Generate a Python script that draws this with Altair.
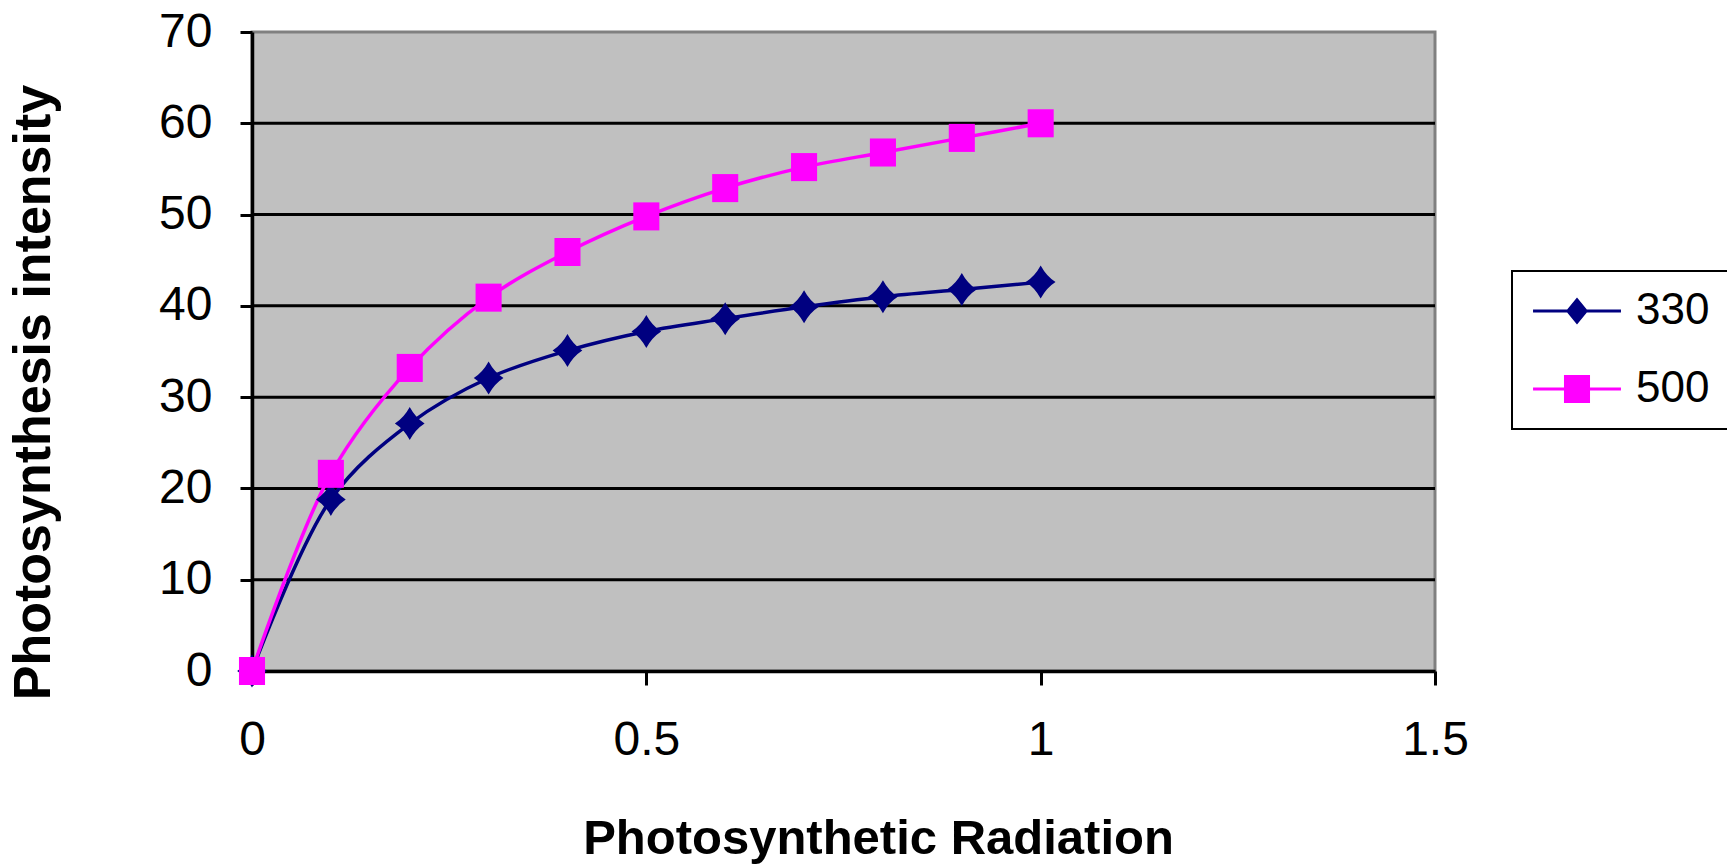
import altair as alt
import pandas as pd

# ---- data ----
x_vals = [0.0, 0.1, 0.2, 0.3, 0.4, 0.5, 0.6, 0.7, 0.8, 0.9, 1.0]
series_330 = [0.0, 18.8, 27.1, 32.1, 35.1, 37.2, 38.6, 39.9, 41.0, 41.8, 42.6]
series_500 = [0.0, 21.6, 33.2, 40.9, 45.9, 49.8, 52.9, 55.2, 56.8, 58.4, 60.0]
series_names = ["330", "500"]
series_colors = ["#000080", "#FF00FF"]
grid_values = [10, 20, 30, 40, 50, 60]
x_ticks = [0, 0.5, 1, 1.5]
y_ticks = [0, 10, 20, 30, 40, 50, 60, 70]

rows = []
for name, vals in zip(series_names, [series_330, series_500]):
    for xv, yv in zip(x_vals, vals):
        rows.append({"radiation": xv, "intensity": yv, "series": name})
df = pd.DataFrame(rows)

W, H = 1183, 639
FONT = "Liberation Sans"

color_scale = alt.Scale(domain=series_names, range=series_colors)
x_scale = alt.Scale(domain=[0, 1.5], nice=False, zero=False)
y_scale = alt.Scale(domain=[0, 70], nice=False)

diamond = "M0,-1Q0.35,-0.35,0.9,0Q0.35,0.35,0,1Q-0.35,0.35,-0.9,0Q-0.35,-0.35,0,-1Z"
square = "M-0.79,-0.85L0.79,-0.85L0.79,0.85L-0.79,0.85Z"

leg_diamond = "M-3.14,-0.1L3.14,-0.1L3.14,0.1L-3.14,0.1Z M0,-0.96L0.79,0L0,0.96L-0.79,0Z"
leg_square = "M-3.14,-0.1L3.14,-0.1L3.14,0.1L-3.14,0.1Z M-0.93,-1L0.93,-1L0.93,1L-0.93,1Z"

x_axis = alt.Axis(
    values=x_ticks, format="~g", title="Photosynthetic Radiation",
    tickSize=14, labelPadding=31, labelFlush=False,
    titleX=626, titleY=182, titleBaseline="alphabetic", titleAlign="center",
    titleFontSize=49,
)
y_axis = alt.Axis(
    values=y_ticks, format="d", title="Photosynthesis intensity",
    tickSize=12, labelPadding=28, labelFlush=False,
    titleX=-203, titleY=360, titleAngle=270, titleBaseline="alphabetic", titleAlign="center",
    titleFontSize=52,
)

legend = alt.Legend(
    title=None, orient="none", legendX=1260, legendY=239, direction="vertical",
    fillColor="white", strokeColor="black", padding=18, rowPadding=34,
    symbolSize=784, symbolOffset=25, labelOffset=37,
    labelFont=FONT, labelFontSize=44, labelColor="black",
    symbolStrokeWidth=0, symbolOpacity=1,
)

base = alt.Chart(df)
X = alt.X("radiation:Q", scale=x_scale, axis=x_axis)
Y = alt.Y("intensity:Q", scale=y_scale, axis=y_axis)

grid = alt.Chart(pd.DataFrame({"g": grid_values})).mark_rule(
    color="black", strokeWidth=3
).encode(y=alt.Y("g:Q", scale=y_scale, axis=y_axis))

layers = [grid]
for name, col in zip(series_names, series_colors):
    layers.append(
        base.transform_filter(alt.datum.series == name)
        .mark_line(strokeWidth=3.5, interpolate="catmull-rom", color=col)
        .encode(x=X, y=Y)
    )
for name, col, path in zip(series_names, series_colors, [diamond, square]):
    layers.append(
        base.transform_filter(alt.datum.series == name)
        .mark_point(filled=True, opacity=1, size=1089, strokeWidth=0, shape=path, color=col)
        .encode(x=X, y=Y)
    )

legend_layer = base.mark_point(filled=True, opacity=0, size=784).encode(
    x=X, y=Y,
    color=alt.Color("series:N", scale=color_scale, legend=legend),
    shape=alt.Shape("series:N", scale=alt.Scale(domain=series_names, range=[leg_diamond, leg_square]), legend=legend),
)
layers.append(legend_layer)

chart = alt.layer(*layers).properties(
    width=W, height=H,
    autosize=alt.AutoSizeParams(type="none"),
    padding={"left": 252, "top": 32, "right": 292, "bottom": 194},
    background="white",
).configure_view(
    fill="#C0C0C0", stroke="#808080", strokeWidth=3
).configure_axis(
    domainColor="black", domainWidth=3.5, tickColor="black", tickWidth=3,
    labelFont=FONT, labelFontSize=48, labelColor="black",
    titleFont=FONT, titleFontWeight="bold", titleColor="black",
    grid=False,
).configure_legend(strokeWidth=2)

chart.save("out.html", embed_options={"renderer": "svg", "actions": False})
